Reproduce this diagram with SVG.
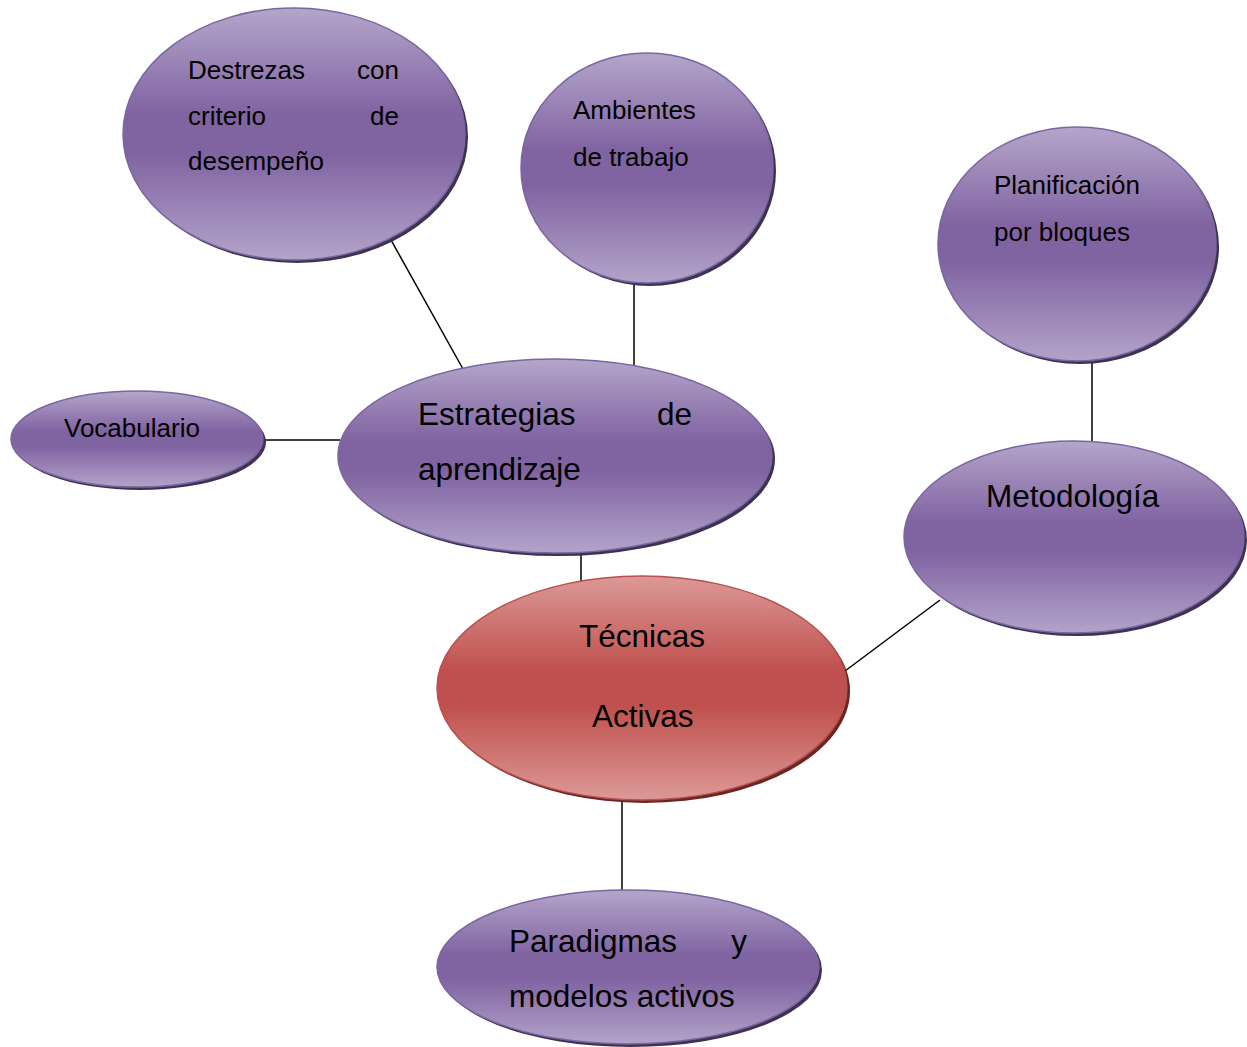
<svg xmlns="http://www.w3.org/2000/svg" width="1247" height="1047" viewBox="0 0 1247 1047">
<defs>
<linearGradient id="gp" x1="0" y1="0" x2="0" y2="1">
<stop offset="0" stop-color="#b5a5ca"/>
<stop offset="0.42" stop-color="#8064a2"/>
<stop offset="0.58" stop-color="#8064a2"/>
<stop offset="1" stop-color="#b3a3c9"/>
</linearGradient>
<linearGradient id="gr" x1="0" y1="0" x2="0" y2="1">
<stop offset="0" stop-color="#dc9997"/>
<stop offset="0.42" stop-color="#c0504d"/>
<stop offset="0.58" stop-color="#c0504d"/>
<stop offset="1" stop-color="#dc9997"/>
</linearGradient>
</defs>
<style>
.p{fill:url(#gp);stroke:#7a66a0;stroke-width:1.5}
.ps{fill:#3f3151}
.r{fill:url(#gr);stroke:#b8514e;stroke-width:1.5}
.rs{fill:#6b2624}
.c{stroke:#000;stroke-width:1.5;fill:none}
text{font-family:"Liberation Sans",Arial,sans-serif;fill:#000}
.s{font-size:26px}
.b{font-size:31.5px}
.e{text-anchor:end}
</style>
<rect width="1247" height="1047" fill="#fff"/>
<g id="connectors">
<line class="c" x1="391" y1="240" x2="463" y2="369"/>
<line class="c" x1="634" y1="284" x2="634" y2="369"/>
<line class="c" x1="263" y1="440" x2="340" y2="440"/>
<line class="c" x1="1092" y1="360" x2="1092" y2="441"/>
<line class="c" x1="581" y1="550" x2="581" y2="586"/>
<line class="c" x1="845" y1="671" x2="940" y2="600"/>
<line class="c" x1="622" y1="797" x2="622" y2="891"/>
</g>
<g id="destrezas">
<ellipse class="ps" cx="297" cy="137" rx="171" ry="126"/>
<ellipse class="p" cx="294" cy="134" rx="171" ry="126"/>
<text class="s" x="188" y="79">Destrezas</text><text class="s e" x="399" y="79">con</text>
<text class="s" x="188" y="125">criterio</text><text class="s e" x="399" y="125">de</text>
<text class="s" x="188" y="170">desempeño</text>
</g>
<g id="ambientes">
<ellipse class="ps" cx="650" cy="171" rx="126" ry="115"/>
<ellipse class="p" cx="647" cy="168" rx="126" ry="115"/>
<text class="s" x="573" y="119">Ambientes</text>
<text class="s" x="573" y="166">de trabajo</text>
</g>
<g id="planificacion">
<ellipse class="ps" cx="1080" cy="247" rx="139" ry="117"/>
<ellipse class="p" cx="1077" cy="244" rx="139" ry="117"/>
<text class="s" x="994" y="194">Planificación</text>
<text class="s" x="994" y="241">por bloques</text>
</g>
<g id="vocabulario">
<ellipse class="ps" cx="140" cy="442" rx="126" ry="48"/>
<ellipse class="p" cx="137" cy="439" rx="126" ry="48"/>
<text class="s" x="64" y="437">Vocabulario</text>
</g>
<g id="estrategias">
<ellipse class="ps" cx="558" cy="459" rx="217" ry="97"/>
<ellipse class="p" cx="555" cy="456" rx="217" ry="97"/>
<text class="b" x="418" y="425">Estrategias</text><text class="b e" x="692" y="425">de</text>
<text class="b" x="418" y="480">aprendizaje</text>
</g>
<g id="metodologia">
<ellipse class="ps" cx="1077" cy="540" rx="170" ry="96"/>
<ellipse class="p" cx="1074" cy="537" rx="170" ry="96"/>
<text class="b" x="986" y="507">Metodología</text>
</g>
<g id="tecnicas">
<ellipse class="rs" cx="645" cy="691" rx="205" ry="112"/>
<ellipse class="r" cx="642" cy="688" rx="205" ry="112"/>
<text class="b" x="579" y="647">Técnicas</text>
<text class="b" x="592" y="727">Activas</text>
</g>
<g id="paradigmas">
<ellipse class="ps" cx="631" cy="970" rx="191" ry="77"/>
<ellipse class="p" cx="628" cy="967" rx="191" ry="77"/>
<text class="b" x="509" y="952">Paradigmas</text><text class="b e" x="747" y="952">y</text>
<text class="b" x="509" y="1007">modelos activos</text>
</g>
</svg>
